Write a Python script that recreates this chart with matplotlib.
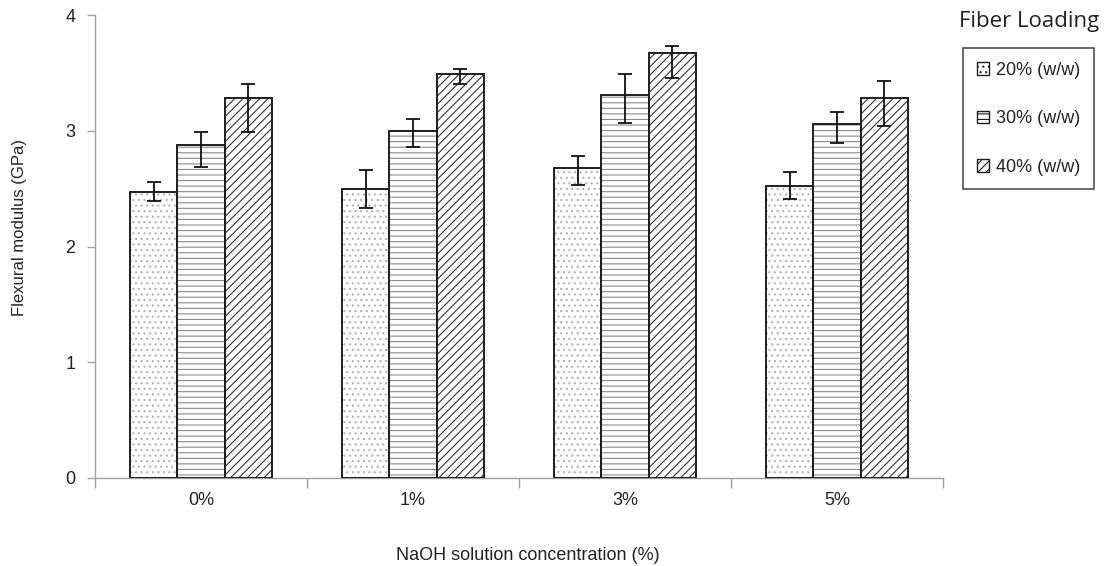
import matplotlib
matplotlib.use("Agg")
import matplotlib.pyplot as plt
from matplotlib.patches import Patch
import numpy as np

# Data
concentrations = ["0%", "1%", "3%", "5%"]
loadings = ["20% (w/w)", "30% (w/w)", "40% (w/w)"]

# flexural modulus (GPa), one list per fiber loading
modulus_20 = [2.47, 2.50, 2.68, 2.52]
modulus_30 = [2.88, 3.00, 3.31, 3.06]
modulus_40 = [3.28, 3.49, 3.67, 3.28]

# error bars (upper, lower)
err_up_20 = [0.09, 0.16, 0.10, 0.12]
err_lo_20 = [0.08, 0.17, 0.15, 0.11]
err_up_30 = [0.11, 0.10, 0.18, 0.10]
err_lo_30 = [0.19, 0.14, 0.24, 0.17]
err_up_40 = [0.12, 0.04, 0.06, 0.15]
err_lo_40 = [0.29, 0.09, 0.21, 0.24]

plt.rcParams['font.family'] = ['Liberation Sans', 'DejaVu Sans']
plt.rcParams['hatch.linewidth'] = 0.8

fig = plt.figure(figsize=(11.07, 5.66), dpi=100)
ax = fig.add_axes([95 / 1107, 88 / 566, 848 / 1107, 463 / 566])

series = [
    (modulus_20, err_up_20, err_lo_20, '...', '#b0b0b0'),
    (modulus_30, err_up_30, err_lo_30, '---', '#8a8a8a'),
    (modulus_40, err_up_40, err_lo_40, '////', '#333333'),
]

x = np.arange(len(concentrations)) + 0.5
width = 0.222
edge = '#1e1e1e'

for i, (vals, up, lo, hatch, hcol) in enumerate(series):
    pos = x + (i - 1) * width
    # hatch layer, then outline on top
    ax.bar(pos, vals, width, color='white', edgecolor=hcol, hatch=hatch,
           linewidth=0, zorder=2)
    ax.bar(pos, vals, width, fill=False, edgecolor=edge, linewidth=1.4, zorder=3)
    ax.errorbar(pos, vals, yerr=[lo, up], fmt='none', ecolor='#111111',
                elinewidth=1.3, capsize=5, capthick=1.3, zorder=4)

ax.set_xlim(0, 4)
ax.set_ylim(0, 4)
ax.set_yticks([0, 1, 2, 3, 4])
ax.set_xticks([0, 1, 2, 3, 4])
ax.set_xticklabels([])
ax.set_xticks(x, minor=True)
ax.set_xticklabels(concentrations, minor=True)

for side in ['top', 'right']:
    ax.spines[side].set_visible(False)
for side in ['left', 'bottom']:
    ax.spines[side].set_color('#a0a0a0')
    ax.spines[side].set_linewidth(1.0)

ax.tick_params(axis='y', which='major', direction='out', length=6, width=1.0,
               color='#a0a0a0', labelsize=13, labelcolor='#222222', pad=8)
ax.tick_params(axis='x', which='major', direction='out', length=7, width=1.0,
               color='#a0a0a0')
ax.tick_params(axis='x', which='minor', length=0, labelsize=13,
               labelcolor='#222222', pad=10)

fig.text(20 / 1107, 1 - 228 / 566, "Flexural modulus (GPa)", rotation=90,
         ha='center', va='center', fontsize=12, color='#222222')
fig.text(528 / 1107, 1 - 555 / 566, "NaOH solution concentration (%)",
         ha='center', va='center', fontsize=13, color='#222222')

handles = [Patch(facecolor='white', edgecolor=edge, hatch=h, linewidth=1.0)
           for (_, _, _, h, _) in series]
leg = fig.legend(handles, loadings, loc='upper left',
                 bbox_to_anchor=(963 / 1107, 1 - 48 / 566),
                 fontsize=13, frameon=True, fancybox=False, edgecolor='#222222',
                 handlelength=0.7, handleheight=0.7, handletextpad=0.4,
                 labelspacing=1.75, borderpad=0.75, borderaxespad=0)
leg.get_frame().set_linewidth(1.2)
for t in leg.get_texts():
    t.set_color('#222222')

fig.text(1029 / 1107, 1 - 22 / 566, "Fiber Loading", ha='center', va='center',
         fontsize=16, color='#222222', family=['Open Sans', 'DejaVu Sans'])

fig.savefig("out.png", dpi=100)
